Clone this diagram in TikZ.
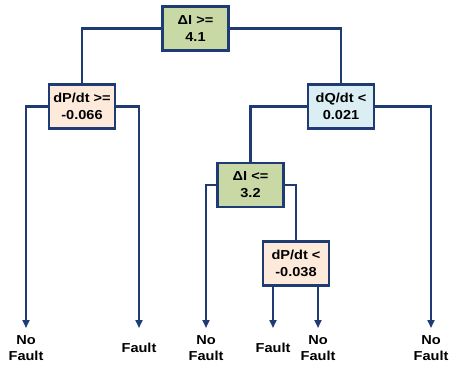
\documentclass[tikz,border=0pt]{standalone}
\usepackage{fontspec}
\setmainfont[FakeStretch=1.12]{Liberation Sans}
\usetikzlibrary{arrows.meta,positioning}

\definecolor{navy}{HTML}{1F3B73}
\definecolor{olivebox}{HTML}{C9D9A6}
\definecolor{peachbox}{HTML}{FDEADA}
\definecolor{bluebox}{HTML}{DAEEF3}

\begin{document}
\begin{tikzpicture}[x=1pt,y=-1pt,
    cond/.style={draw=navy, line width=2.8pt, minimum width=66pt, minimum height=44pt,
        inner sep=0pt, align=center, font=\fontsize{13}{17}\selectfont\bfseries},
    leaf/.style={minimum height=39pt, inner sep=0pt, anchor=north, align=center,
        font=\fontsize{13}{16}\selectfont\bfseries},
    edge/.style={draw=navy, line width=2.8pt},
    tip/.style={edge, -{Triangle[length=8pt,width=7pt]}}]
    \useasboundingbox (0,0) rectangle (450,365);

    % Decision nodes
    \node[cond, fill=olivebox] (root) at (195.5,28.5) {ΔI >=\\4.1};
    \node[cond, fill=peachbox] (dpa) at (82,106.5) {dP/dt >=\\-0.066};
    \node[cond, fill=bluebox] (dq) at (341,106.5) {dQ/dt <\\0.021};
    \node[cond, fill=olivebox] (di) at (250.5,185) {ΔI <=\\3.2};
    \node[cond, fill=peachbox] (dpb) at (296,263.5) {dP/dt <\\-0.038};

    % Leaves
    \node[leaf] (l1) at (26,328) {No\\Fault};
    \node[leaf] (l2) at (139,328) {Fault};
    \node[leaf] (l3) at (206,328) {No\\Fault};
    \node[leaf] (l4) at (273,328) {Fault};
    \node[leaf] (l5) at (318,328) {No\\Fault};
    \node[leaf] (l6) at (431,328) {No\\Fault};

    % Branches
    \draw[edge] (root.west) -| (dpa.north);
    \draw[edge] (root.east) -| (dq.north);
    \draw[edge] (dq.west) -| (di.north);
    \draw[edge] (di.east) -| (dpb.north);
    \draw[tip] (dpa.west) -| (l1.north);
    \draw[tip] (dpa.east) -| (l2.north);
    \draw[tip] (di.west) -| (l3.north);
    \draw[tip] (dq.east) -| (l6.north);
    \draw[tip] (dpb.south -| l4.north) -- (l4.north);
    \draw[tip] (dpb.south -| l5.north) -- (l5.north);
\end{tikzpicture}
\end{document}
